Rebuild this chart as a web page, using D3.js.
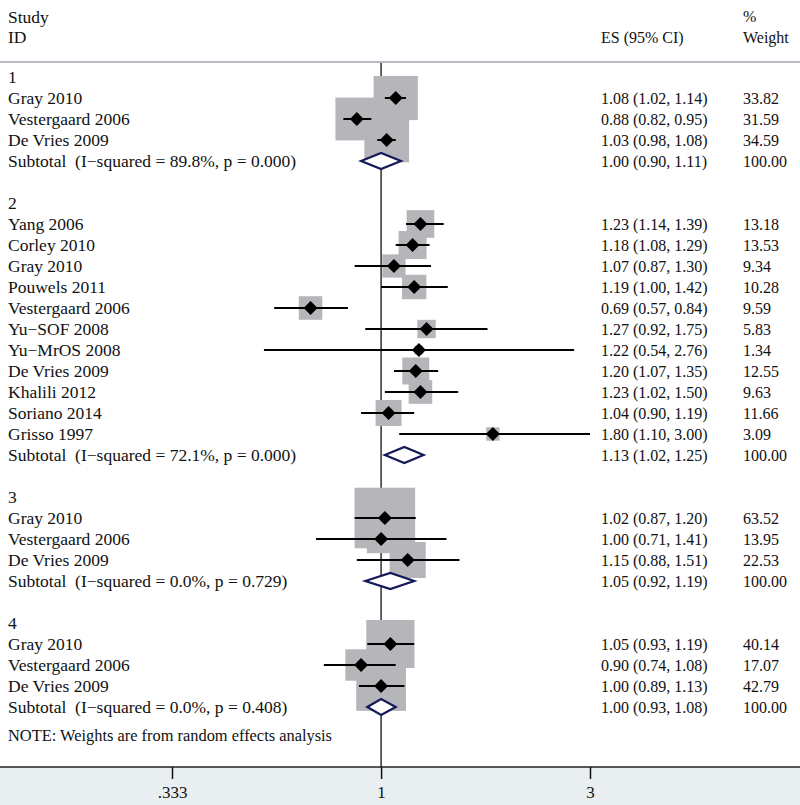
<!DOCTYPE html>
<html>
<head>
<meta charset="utf-8">
<script src="https://cdn.jsdelivr.net/npm/d3@7"></script>
<style>
  body { margin: 0; background: #fff; }
  text { font-family: "Liberation Serif", "Times New Roman", serif; fill: #111; white-space: pre; }
  .lbl { font-size: 17.5px; }
  .num { font-size: 16px; }
</style>
</head>
<body>
<svg id="chart" width="800" height="805"></svg>
<script>
// subgroup labels
const groups = ['1', '2', '3', '4'];

// study rows
const studyNames = [
  'Gray 2010', 'Vestergaard 2006', 'De Vries 2009',
  'Yang 2006', 'Corley 2010', 'Gray 2010', 'Pouwels 2011', 'Vestergaard 2006',
  'Yu\u2212SOF 2008', 'Yu\u2212MrOS 2008', 'De Vries 2009', 'Khalili 2012', 'Soriano 2014', 'Grisso 1997',
  'Gray 2010', 'Vestergaard 2006', 'De Vries 2009',
  'Gray 2010', 'Vestergaard 2006', 'De Vries 2009'
];
const studyGroup = [0, 0, 0, 1, 1, 1, 1, 1, 1, 1, 1, 1, 1, 1, 2, 2, 2, 3, 3, 3];
const esValues = [1.08, 0.88, 1.03, 1.23, 1.18, 1.07, 1.19, 0.69, 1.27, 1.22, 1.20, 1.23, 1.04, 1.80, 1.02, 1.00, 1.15, 1.05, 0.90, 1.00];
const ciLow = [1.02, 0.82, 0.98, 1.14, 1.08, 0.87, 1.00, 0.57, 0.92, 0.54, 1.07, 1.02, 0.90, 1.10, 0.87, 0.71, 0.88, 0.93, 0.74, 0.89];
const ciHigh = [1.14, 0.95, 1.08, 1.39, 1.29, 1.30, 1.42, 0.84, 1.75, 2.76, 1.35, 1.50, 1.19, 3.00, 1.20, 1.41, 1.51, 1.19, 1.08, 1.13];
const weights = [33.82, 31.59, 34.59, 13.18, 13.53, 9.34, 10.28, 9.59, 5.83, 1.34, 12.55, 9.63, 11.66, 3.09, 63.52, 13.95, 22.53, 40.14, 17.07, 42.79];

// subtotals
const subI2 = ['89.8%', '72.1%', '0.0%', '0.0%'];
const subP = ['0.000', '0.000', '0.729', '0.408'];
const subEs = [1.00, 1.13, 1.05, 1.00];
const subLow = [0.90, 1.02, 0.92, 0.93];
const subHigh = [1.11, 1.25, 1.19, 1.08];
const subWeight = [100.00, 100.00, 100.00, 100.00];

// axis ticks
const tickValues = [0.333, 1, 3];
const tickLabels = ['.333', '1', '3'];

const note = 'NOTE: Weights are from random effects analysis';

const width = 800, height = 805;
const svg = d3.select('#chart');

const x = d3.scaleLog().domain([0.333, 3]).range([172, 590]);
const y = d3.scaleLinear().domain([0, 1]).range([77, 98]);
const boxK = 7.6;
const fmt = d3.format('.2f');

// build rows: group header, studies, subtotal, blank
const rows = [];
let r = 0;
groups.forEach((g, gi) => {
  rows.push({ type: 'head', label: g, row: r++ });
  studyNames.forEach((name, i) => {
    if (studyGroup[i] !== gi) return;
    rows.push({ type: 'study', label: name, es: esValues[i], lo: ciLow[i], hi: ciHigh[i], w: weights[i], row: r++ });
  });
  rows.push({
    type: 'sub',
    label: `Subtotal  (I\u2212squared = ${subI2[gi]}, p = ${subP[gi]})`,
    es: subEs[gi], lo: subLow[gi], hi: subHigh[gi], w: subWeight[gi], row: r++
  });
  r++;
});

const axisTop = 767;

// axis band
svg.append('rect')
  .attr('x', 0).attr('y', axisTop)
  .attr('width', width).attr('height', height - axisTop)
  .attr('fill', '#e9eef1');

// header
svg.append('text').attr('class', 'lbl').attr('x', 8).attr('y', 23).text('Study');
svg.append('text').attr('class', 'lbl').attr('x', 8).attr('y', 43).text('ID');
svg.append('text').attr('class', 'num').attr('x', 601).attr('y', 43).text('ES (95% CI)');
svg.append('text').attr('class', 'num').attr('x', 743).attr('y', 22).text('%');
svg.append('text').attr('class', 'num').attr('x', 743).attr('y', 43).text('Weight');

svg.append('line')
  .attr('x1', 0).attr('x2', width)
  .attr('y1', 62).attr('y2', 62)
  .attr('stroke', '#b9b9c2').attr('stroke-width', 2);

// null line
svg.append('line')
  .attr('x1', x(1)).attr('x2', x(1))
  .attr('y1', 63).attr('y2', axisTop)
  .attr('stroke', '#111').attr('stroke-width', 1.3);

const studies = rows.filter((d) => d.type === 'study');
const subs = rows.filter((d) => d.type === 'sub');

// weight boxes
svg.append('g').selectAll('rect')
  .data(studies)
  .join('rect')
  .attr('x', (d) => x(d.es) - boxK * Math.sqrt(d.w) / 2)
  .attr('y', (d) => y(d.row) - boxK * Math.sqrt(d.w) / 2)
  .attr('width', (d) => boxK * Math.sqrt(d.w))
  .attr('height', (d) => boxK * Math.sqrt(d.w))
  .attr('fill', '#b5b5ba');

// CI lines
svg.append('g').selectAll('line')
  .data(studies)
  .join('line')
  .attr('x1', (d) => x(d.lo))
  .attr('x2', (d) => x(d.hi))
  .attr('y1', (d) => y(d.row))
  .attr('y2', (d) => y(d.row))
  .attr('stroke', '#000')
  .attr('stroke-width', 2);

// point estimates
svg.append('g').selectAll('path')
  .data(studies)
  .join('path')
  .attr('d', (d) => {
    const cx = x(d.es), cy = y(d.row), s = 7;
    return `M${cx - s},${cy}L${cx},${cy - s}L${cx + s},${cy}L${cx},${cy + s}Z`;
  })
  .attr('fill', '#000');

// subtotal diamonds
svg.append('g').selectAll('path')
  .data(subs)
  .join('path')
  .attr('d', (d) => {
    const cy = y(d.row), h = 8;
    return `M${x(d.lo)},${cy}L${x(d.es)},${cy - h}L${x(d.hi)},${cy}L${x(d.es)},${cy + h}Z`;
  })
  .attr('fill', '#fff')
  .attr('stroke', '#14195a')
  .attr('stroke-width', 2.2);

// labels
svg.append('g').selectAll('text')
  .data(rows)
  .join('text')
  .attr('class', 'lbl')
  .attr('x', 8)
  .attr('y', (d) => y(d.row))
  .attr('dy', '0.35em')
  .text((d) => d.label);

const valueRows = rows.filter((d) => d.type !== 'head');
svg.append('g').selectAll('text')
  .data(valueRows)
  .join('text')
  .attr('class', 'num')
  .attr('x', 601)
  .attr('y', (d) => y(d.row))
  .attr('dy', '0.35em')
  .text((d) => `${fmt(d.es)} (${fmt(d.lo)}, ${fmt(d.hi)})`);

svg.append('g').selectAll('text')
  .data(valueRows)
  .join('text')
  .attr('class', 'num')
  .attr('x', 743)
  .attr('y', (d) => y(d.row))
  .attr('dy', '0.35em')
  .text((d) => fmt(d.w));

svg.append('text')
  .attr('x', 8)
  .attr('y', 735)
  .attr('dy', '0.35em')
  .style('font-size', '16.4px')
  .text(note);

// x axis
const axis = svg.append('g')
  .attr('transform', `translate(0,${axisTop})`)
  .call(d3.axisBottom(x).tickValues(tickValues).tickFormat((d, i) => tickLabels[i]).tickSize(12).tickPadding(7));
axis.select('.domain').attr('d', `M0,0H${width}`).attr('stroke', '#222').attr('stroke-width', 1.5);
axis.selectAll('.tick line').attr('stroke', '#111').attr('stroke-width', 1.5);
axis.selectAll('.tick text')
  .style('font-family', '"Liberation Serif", "Times New Roman", serif')
  .style('font-size', '17px')
  .attr('fill', '#111');
</script>
</body>
</html>
